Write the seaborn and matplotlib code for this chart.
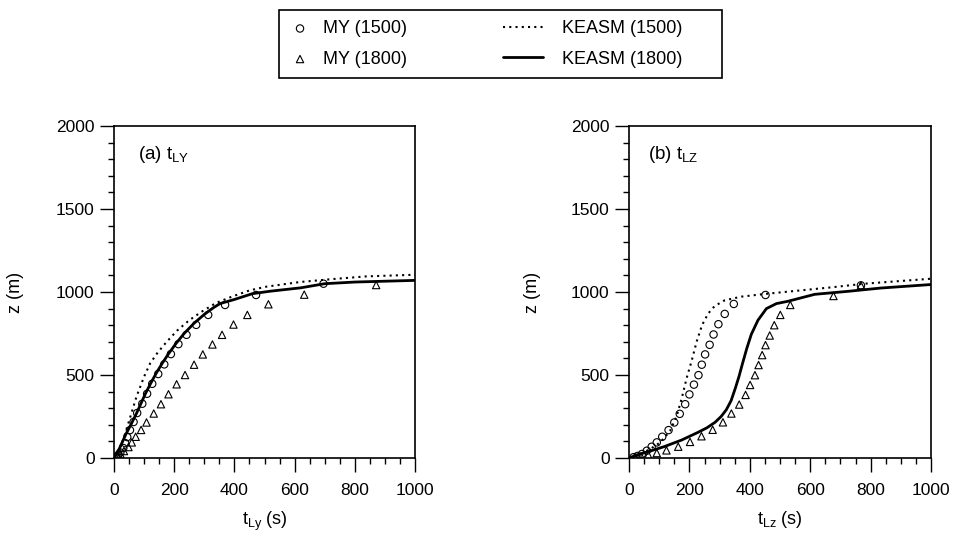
import numpy as np
import pandas as pd
import matplotlib
matplotlib.use("Agg")
import matplotlib.pyplot as plt
from matplotlib.patches import Rectangle
from matplotlib.ticker import MultipleLocator
import seaborn as sns

# ---------------- data ----------------
# Panel (a): t_Ly
a_my1500_t = [8, 14, 21, 31, 37, 44, 53, 65, 77, 94, 110, 127, 147, 167, 189, 214, 241, 273, 313, 369, 472, 696]
a_my1500_z = [8, 18, 33, 60, 90, 126, 168, 217, 271, 327, 387, 447, 506, 564, 626, 686, 742, 802, 862, 922, 982, 1050]
a_my1800_t = [12, 22, 33, 48, 59, 72, 90, 108, 132, 156, 181, 208, 236, 266, 295, 327, 359, 397, 443, 513, 632, 871]
a_my1800_z = [10, 22, 42, 66, 94, 128, 169, 214, 268, 324, 384, 444, 500, 562, 624, 684, 742, 804, 862, 926, 984, 1042]
a_ke1500_t = [0, 15, 31, 53, 75, 100, 120, 145, 175, 210, 250, 290, 340, 396, 451, 506, 617, 727, 838, 1000]
a_ke1500_z = [0, 50, 110, 241, 371, 490, 570, 635, 700, 768, 830, 880, 935, 975, 1010, 1032, 1060, 1078, 1094, 1104]
a_ke1800_t = [0, 10, 20, 30, 40, 50, 60, 75, 90, 105, 122, 140, 160, 182, 206, 233, 265, 300, 330, 352, 400, 460, 520, 620, 700, 800, 1000]
a_ke1800_z = [0, 28, 65, 105, 145, 180, 215, 270, 330, 390, 450, 510, 570, 630, 690, 750, 810, 865, 905, 930, 955, 990, 1005, 1025, 1050, 1060, 1070]

# Panel (b): t_Lz
b_my1500_t = [15, 28, 43, 59, 75, 92, 110, 131, 150, 168, 186, 200, 215, 230, 241, 252, 267, 280, 296, 317, 347, 452, 768]
b_my1500_z = [5, 12, 24, 44, 68, 94, 128, 168, 214, 266, 324, 383, 442, 499, 562, 624, 682, 744, 806, 868, 928, 982, 1040]
b_my1800_t = [20, 40, 64, 92, 124, 163, 202, 240, 277, 311, 339, 365, 386, 401, 417, 429, 441, 452, 466, 481, 501, 534, 677, 768]
b_my1800_z = [4, 10, 18, 30, 46, 68, 97, 131, 170, 215, 268, 322, 380, 440, 499, 560, 620, 680, 738, 800, 862, 922, 976, 1040]
b_ke1500_t = [0, 25, 42, 70, 103, 136, 158, 175, 191, 207, 224, 242, 262, 284, 317, 372, 449, 559, 670, 780, 1000]
b_ke1500_z = [0, 14, 28, 54, 93, 163, 253, 362, 482, 582, 701, 801, 870, 916, 950, 972, 988, 1008, 1028, 1050, 1080]
b_ke1800_t = [0, 25, 64, 119, 174, 229, 258, 285, 305, 322, 338, 352, 364, 376, 390, 405, 427, 455, 488, 526, 615, 725, 835, 1000]
b_ke1800_z = [0, 18, 38, 70, 108, 155, 182, 215, 250, 290, 345, 420, 490, 570, 660, 745, 830, 900, 930, 944, 986, 1004, 1024, 1045]

series_labels = ["MY (1500)", "MY (1800)", "KEASM (1500)", "KEASM (1800)"]
panel_titles = [r"(a) t$_{\mathrm{LY}}$", r"(b) t$_{\mathrm{LZ}}$"]
x_labels = [r"t$_{\mathrm{Ly}}$ (s)", r"t$_{\mathrm{Lz}}$ (s)"]
y_label = "z (m)"

# ---------------- style ----------------
sns.set_theme(style="ticks")
plt.rcParams.update({
    "font.family": ["Liberation Sans", "DejaVu Sans"],
    "mathtext.fontset": "custom",
    "mathtext.rm": "Liberation Sans",
    "mathtext.it": "Liberation Sans:italic",
    "mathtext.bf": "Liberation Sans:bold",
    "axes.edgecolor": "black",
    "axes.linewidth": 1.2,
    "xtick.color": "black",
    "ytick.color": "black",
    "text.color": "black",
    "axes.labelcolor": "black",
})

fig = plt.figure(figsize=(9.55, 5.4), dpi=100)
ax_l = fig.add_axes([114 / 955, 1 - 458 / 540, 301 / 955, 332 / 540])
ax_r = fig.add_axes([629 / 955, 1 - 458 / 540, 302 / 955, 332 / 540])

panels = [
    (ax_l, a_my1500_t, a_my1500_z, a_my1800_t, a_my1800_z, a_ke1500_t, a_ke1500_z, a_ke1800_t, a_ke1800_z),
    (ax_r, b_my1500_t, b_my1500_z, b_my1800_t, b_my1800_z, b_ke1500_t, b_ke1500_z, b_ke1800_t, b_ke1800_z),
]

for i, (ax, c_t, c_z, tr_t, tr_z, d_t, d_z, s_t, s_z) in enumerate(panels):
    df_c = pd.DataFrame({"t": c_t, "z": c_z})
    df_tr = pd.DataFrame({"t": tr_t, "z": tr_z})
    df_d = pd.DataFrame({"t": d_t, "z": d_z})
    df_s = pd.DataFrame({"t": s_t, "z": s_z})
    sns.scatterplot(data=df_c, x="t", y="z", ax=ax, marker="o", s=28,
                    facecolors="none", edgecolor="black", linewidth=0.8,
                    label=series_labels[0], zorder=3)
    sns.scatterplot(data=df_tr, x="t", y="z", ax=ax, marker="^", s=28,
                    facecolors="none", edgecolor="black", linewidth=0.8,
                    label=series_labels[1], zorder=3)
    sns.lineplot(data=df_d, x="t", y="z", ax=ax, sort=False, estimator=None,
                 color="black", lw=1.5, ls=(0, (1, 2)), label=series_labels[2])
    sns.lineplot(data=df_s, x="t", y="z", ax=ax, sort=False, estimator=None,
                 color="black", lw=2.0, label=series_labels[3])
    if ax.get_legend() is not None:
        ax.get_legend().remove()

    ax.set_xlim(0, 1000)
    ax.set_ylim(0, 2000)
    ax.xaxis.set_major_locator(MultipleLocator(200))
    ax.xaxis.set_minor_locator(MultipleLocator(50))
    ax.yaxis.set_major_locator(MultipleLocator(500))
    ax.yaxis.set_minor_locator(MultipleLocator(100))
    ax.tick_params(axis="both", which="major", direction="out", length=10, width=1.0,
                   labelsize=12.5)
    ax.tick_params(axis="x", which="major", pad=8)
    ax.tick_params(axis="y", which="major", pad=4)
    ax.tick_params(axis="both", which="minor", direction="out", length=4, width=1.0)
    for sp in ax.spines.values():
        sp.set_visible(True)
        sp.set_color("black")
    ax.set_xlabel(x_labels[i], fontsize=13)
    ax.set_ylabel(y_label, fontsize=13)
    ax.xaxis.set_label_coords(0.5, -0.155)
    ax.yaxis.set_label_coords(-0.30 if i == 0 else -0.292, 0.5)
    tx = 0.08 if i == 0 else 0.063
    ax.text(tx, 0.913, panel_titles[i], transform=ax.transAxes, fontsize=13.5,
            va="center", ha="left")

# ---------------- legend ----------------
h, l = ax_l.get_legend_handles_labels()
hmap = dict(zip(l, h))
fig.legend([hmap[series_labels[0]], hmap[series_labels[1]]], series_labels[:2],
           loc="center left", bbox_to_anchor=(291 / 955, 1 - 44 / 540),
           frameon=False, fontsize=13, handlelength=1.0, handletextpad=0.75,
           borderpad=0, borderaxespad=0, labelspacing=0.75)
fig.legend([hmap[series_labels[2]], hmap[series_labels[3]]], series_labels[2:],
           loc="center left", bbox_to_anchor=(503 / 955, 1 - 44 / 540),
           frameon=False, fontsize=13, handlelength=2.2, handletextpad=1.05,
           borderpad=0, borderaxespad=0, labelspacing=0.75)
fig.add_artist(Rectangle((279 / 955, 1 - 78 / 540), 443 / 955, 68 / 540,
                         transform=fig.transFigure, fill=False, edgecolor="black",
                         linewidth=1.2))

fig.savefig("out.png", dpi=100)
